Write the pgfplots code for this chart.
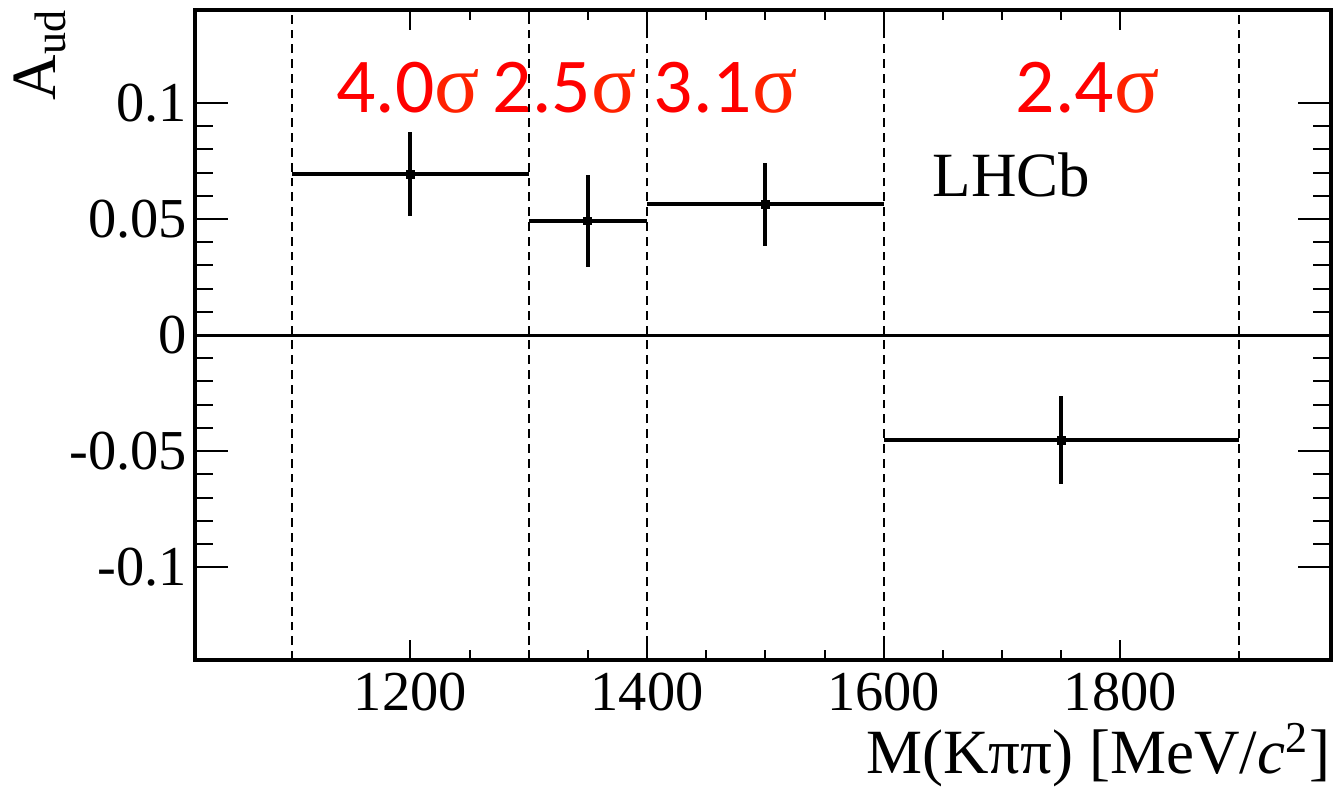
\documentclass[border=0pt]{standalone}
\usepackage{pgfplots}
\pgfplotsset{compat=1.18}
\usepackage{fontspec}
\setmainfont{Liberation Serif}
\newfontfamily\carlito{Carlito}
\newfontfamily\libserif{Liberation Serif}
\definecolor{sigred}{RGB}{255,34,0}
\newcommand\sig[1]{\begingroup\carlito\fontsize{19.4}{22}\selectfont\color{red}#1\endgroup\begingroup\libserif\fontsize{21}{22}\selectfont\color{sigred}σ\endgroup}
\pgfplotsset{
  /pgf/number format/assume math mode=true
}
\begin{document}
\begin{tikzpicture}
\begin{axis}[
  scale only axis, width=284pt, height=162.5pt,
  xmin=1018, xmax=1978, ymin=-0.14, ymax=0.14,
  clip=false,
  xtick={1200,1400,1600,1800},
  xticklabels={1200,1400,1600,1800},
  minor x tick num=3,
  ytick={-0.1,-0.05,0,0.05,0.1},
  yticklabels={{-0.1},{-0.05},{0},{0.05},{0.1}},
  minor y tick num=4,
  tick align=inside, xtick pos=both, ytick pos=both,
  axis line style={line width=1pt},
  tick style={black, line width=0.5pt},
  xtick style={/pgfplots/major tick length=5pt,/pgfplots/minor tick length=2.5pt},
  ytick style={/pgfplots/major tick length=8.3pt,/pgfplots/minor tick length=4.5pt},
  tick label style={font=\libserif\fontsize{14.1}{17}\selectfont},
  xticklabel style={inner sep=0pt, yshift=-3pt},
  yticklabel style={xshift=1.5pt},
  xlabel={M(Kππ) [MeV/\textit{c}\textsuperscript{2}]},
  xlabel style={at={(rel axis cs:1,-0.1738)}, anchor=base east, inner sep=0pt, font=\libserif\fontsize{15.75}{18}\selectfont},
  ylabel={A\textsubscript{ud}},
  ylabel style={at={(rel axis cs:-0.1232,1.003)}, anchor=base east, rotate=0, inner sep=0pt, font=\libserif\fontsize{15.75}{18}\selectfont},
]
% invisible bounding frame
\path (rel axis cs:-0.17165,-0.18769) rectangle (rel axis cs:1.00176,1.01538);

% bin boundaries
\addplot[black, line width=0.5pt, dash pattern=on 2.2pt off 1.5pt, forget plot] coordinates {(1100,-0.14) (1100,0.14)};
\addplot[black, line width=0.5pt, dash pattern=on 2.2pt off 1.5pt, forget plot] coordinates {(1300,-0.14) (1300,0.14)};
\addplot[black, line width=0.5pt, dash pattern=on 2.2pt off 1.5pt, forget plot] coordinates {(1400,-0.14) (1400,0.14)};
\addplot[black, line width=0.5pt, dash pattern=on 2.2pt off 1.5pt, forget plot] coordinates {(1600,-0.14) (1600,0.14)};
\addplot[black, line width=0.5pt, dash pattern=on 2.2pt off 1.5pt, forget plot] coordinates {(1900,-0.14) (1900,0.14)};
% zero line
\addplot[black, line width=0.75pt, forget plot] coordinates {(1018,0) (1978,0)};

% data
\addplot[black, only marks, mark=square*, mark size=0.9pt,
  error bars/.cd, x dir=both, x explicit, y dir=both, y explicit,
  error mark=none, error bar style={line width=1pt}]
  table[x=x, y=y, x error=ex, y error=ey] {
x     y       ex   ey
1200  0.0693  100  0.018
1350  0.0491  50   0.020
1500  0.0563  100  0.018
1750  -0.0453 150  0.019
};

% significance labels
\node[anchor=base west, inner sep=0pt] at (axis cs:1137,0.0957) {\sig{4.0}};
\node[anchor=base west, inner sep=0pt] at (axis cs:1269,0.0957) {\sig{2.5}};
\node[anchor=base west, inner sep=0pt] at (axis cs:1405,0.0957) {\sig{3.1}};
\node[anchor=base west, inner sep=0pt] at (axis cs:1711,0.0957) {\sig{2.4}};
\node[anchor=base west, inner sep=0pt, font=\libserif\fontsize{15.75}{18}\selectfont] at (axis cs:1640.7,0.0595) {LHCb};
\end{axis}
\end{tikzpicture}
\end{document}
